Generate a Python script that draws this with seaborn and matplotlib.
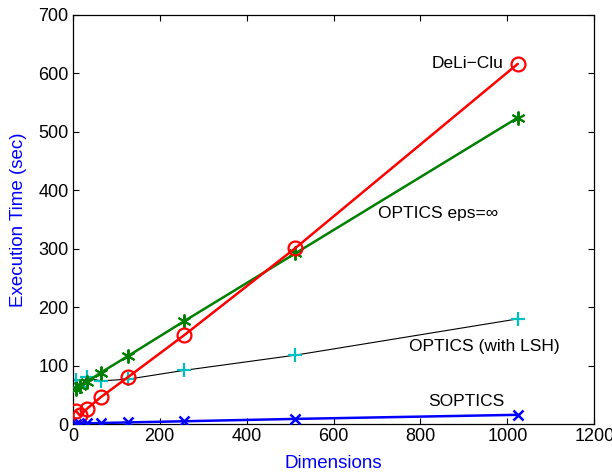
import matplotlib
matplotlib.use("Agg")
import matplotlib.pyplot as plt
import seaborn as sns
import pandas as pd

dims = [8, 16, 32, 64, 128, 256, 512, 1024]
deliclu = [22, 15, 26, 46, 81, 152, 301, 616]
optics_inf = [60, 65, 72, 88, 117, 176, 292, 524]
optics_lsh = [75, 63, 80, 74, 77, 92, 118, 180]
soptics = [1, 1, 1.5, 2, 3, 5, 9, 16]

sns.set_theme(style="white")
plt.rcParams['font.family'] = ['Liberation Sans', 'DejaVu Sans']

fig = plt.figure(figsize=(6.12, 4.75), dpi=100)
ax = fig.add_axes([0.119, 0.107, 0.852, 0.862])

asterisk = (6, 2, 0)

df_lsh = pd.DataFrame({"x": dims, "y": optics_lsh})
sns.lineplot(data=df_lsh, x="x", y="y", ax=ax, color="black", lw=0.8, zorder=2)
ax.plot(dims, optics_lsh, ls="none", marker="+", ms=10, mew=1.6, color="#00bfbf", zorder=2)

df_inf = pd.DataFrame({"x": dims, "y": optics_inf})
sns.lineplot(data=df_inf, x="x", y="y", ax=ax, color="#008000", lw=1.8,
             marker=asterisk, ms=10, mew=1.4, mec="#008000", zorder=3)

df_d = pd.DataFrame({"x": dims, "y": deliclu})
sns.lineplot(data=df_d, x="x", y="y", ax=ax, color="#ff0000", lw=1.8,
             marker="o", ms=10, mew=1.6, mfc="none", mec="#ff0000", zorder=4)

df_s = pd.DataFrame({"x": dims, "y": soptics})
sns.lineplot(data=df_s, x="x", y="y", ax=ax, color="#0000ff", lw=1.8,
             marker="x", ms=7, mew=1.8, mec="#0000ff", zorder=5)

ax.set_xlim(0, 1200)
ax.set_ylim(0, 700)
ax.set_xticks(range(0, 1201, 200))
ax.set_yticks(range(0, 701, 100))
ax.tick_params(direction="in", length=4, width=0.8, top=True, right=True,
               bottom=True, left=True, labelsize=13, colors="black", pad=3)
for s in ax.spines.values():
    s.set_color("black")
    s.set_linewidth(0.9)
ax.set_xlabel("Dimensions", color="#0000ff", fontsize=13.5, labelpad=7)
ax.set_ylabel("Execution Time (sec)", color="#0000ff", fontsize=13.5, labelpad=8)

tk = dict(fontsize=12.5, color="black", va="center")
ax.text(990, 616, "DeLi\u2212Clu", ha="right", **tk)
ax.text(703, 361, "OPTICS eps=\u221e", ha="left", **tk)
ax.text(774, 132, "OPTICS (with LSH)", ha="left", **tk)
ax.text(818, 38, "SOPTICS", ha="left", **tk)

fig.savefig("out.png", dpi=100)
